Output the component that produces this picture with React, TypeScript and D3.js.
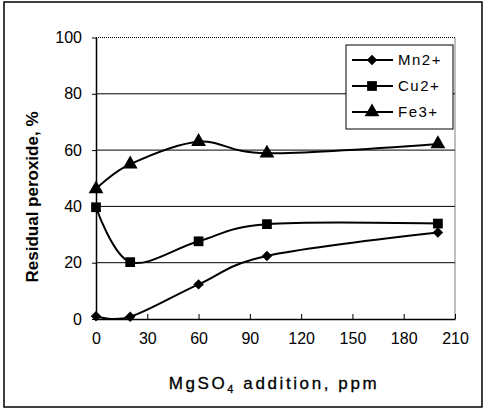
import React, { useRef, useEffect } from "react";
import * as d3 from "d3";

const doses = [0, 20, 60, 100, 200];
const mn2 = [1, 0.8, 12.3, 22.4, 30.7];
const cu2 = [39.7, 20.2, 27.6, 33.7, 33.9];
const fe3 = [46.2, 55, 63, 58.9, 62.2];
const seriesNames = ["Mn2+", "Cu2+", "Fe3+"];
const seriesSymbols = [d3.symbolSquare, d3.symbolSquare, d3.symbolTriangle];
const seriesSizes = [55, 95, 95];
const seriesRotate = [45, 0, 0];
const xTicks = [0, 30, 60, 90, 120, 150, 180, 210];
const yTicks = [0, 20, 40, 60, 80, 100];

const App = () => {
  const ref = useRef<SVGSVGElement>(null);

  useEffect(() => {
    const svg = d3.select(ref.current);
    svg.selectAll("*").remove();

    const x = d3.scaleLinear().domain([0, 210]).range([96, 455]);
    const y = d3.scaleLinear().domain([0, 100]).range([319, 37.5]);
    const font = "Arial, 'Liberation Sans', sans-serif";

    // outer frame
    svg.append("rect").attr("x", 4).attr("y", 2).attr("width", 478).attr("height", 405)
      .attr("fill", "white").attr("stroke", "#000").attr("stroke-width", 1.5);

    // gridlines
    svg.append("g").selectAll("line").data([20, 40, 60, 80]).join("line")
      .attr("x1", x(0)).attr("x2", x(210))
      .attr("y1", (d) => y(d)).attr("y2", (d) => y(d))
      .attr("stroke", "#000").attr("stroke-width", 1);

    // plot border top/right (dotted)
    svg.append("path")
      .attr("d", `M${x(0)},${y(100)}H${x(210)}V${y(0)}`)
      .attr("fill", "none").attr("stroke", "#000").attr("stroke-width", 1)
      .attr("stroke-dasharray", "1,1");

    // axes
    const xAxis = d3.axisBottom(x).tickValues(xTicks).tickSizeInner(-5).tickSizeOuter(0).tickPadding(14);
    const gx = svg.append("g").attr("transform", `translate(0,${y(0)})`).call(xAxis);
    gx.select(".domain").attr("stroke-width", 1.5);
    gx.selectAll(".tick text").attr("font-family", font).attr("font-size", 16).attr("fill", "#000");

    const yAxis = d3.axisLeft(y).tickValues(yTicks).tickSizeInner(4).tickSizeOuter(0).tickPadding(10);
    const gy = svg.append("g").attr("transform", `translate(${x(0)},0)`).call(yAxis);
    gy.select(".domain").attr("stroke-width", 1.5);
    gy.selectAll(".tick text").attr("font-family", font).attr("font-size", 16).attr("fill", "#000");

    // axis titles
    svg.append("text").attr("transform", "translate(38,197) rotate(-90)")
      .attr("text-anchor", "middle").attr("font-family", font).attr("font-size", 17)
      .attr("font-weight", "bold").text("Residual peroxide, %");

    const xt = svg.append("text").attr("x", 274).attr("y", 389).attr("text-anchor", "middle")
      .attr("font-family", font).attr("font-size", 17).attr("letter-spacing", 2.6)
      .attr("stroke", "#000").attr("stroke-width", 0.3);
    xt.append("tspan").text("MgSO");
    xt.append("tspan").attr("font-size", 11).attr("dy", 4).text("4");
    xt.append("tspan").attr("dy", -4).text(" addition, ppm");

    const all = [mn2, cu2, fe3];
    const line = d3.line<number>()
      .x((_, i) => x(doses[i]))
      .y((d) => y(d))
      .curve(d3.curveCardinal.tension(0));

    all.forEach((vals, k) => {
      svg.append("path").attr("d", line(vals)).attr("fill", "none")
        .attr("stroke", "#000").attr("stroke-width", 2);
      const sym = d3.symbol().type(seriesSymbols[k]).size(seriesSizes[k]);
      svg.append("g").selectAll("path").data(vals).join("path")
        .attr("transform", (d, i) => `translate(${x(doses[i])},${y(d)}) rotate(${seriesRotate[k]})`)
        .attr("d", sym()).attr("fill", "#000");
    });

    // legend
    const lg = svg.append("g");
    lg.append("rect").attr("x", 346).attr("y", 45).attr("width", 107).attr("height", 84)
      .attr("fill", "white").attr("stroke", "#000").attr("stroke-width", 1);
    seriesNames.forEach((name, k) => {
      const ly = 60 + k * 26;
      lg.append("line").attr("x1", 352).attr("x2", 393).attr("y1", ly).attr("y2", ly)
        .attr("stroke", "#000").attr("stroke-width", 2);
      lg.append("path").attr("transform", `translate(372,${ly}) rotate(${seriesRotate[k]})`)
        .attr("d", d3.symbol().type(seriesSymbols[k]).size(seriesSizes[k])()).attr("fill", "#000");
      lg.append("text").attr("x", 398).attr("y", ly + 5).attr("font-family", font)
        .attr("font-size", 15).attr("letter-spacing", 1.5).text(name);
    });
  }, []);

  return <svg ref={ref} width={485} height={411} style={{ position: "absolute", left: 0, top: 0 }} />;
};

export default App;
